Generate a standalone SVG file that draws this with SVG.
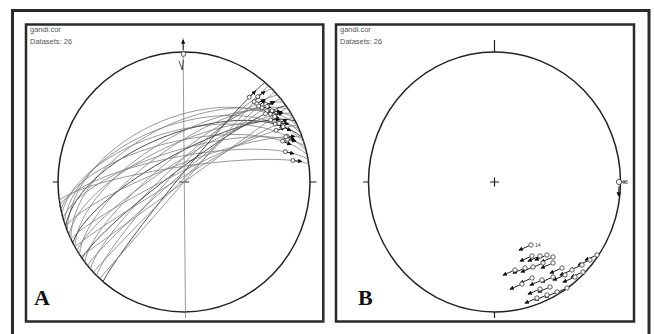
<svg xmlns="http://www.w3.org/2000/svg" width="654" height="334" viewBox="0 0 654 334">
<defs>
<marker id="ah" viewBox="0 0 6 6" refX="5" refY="3" markerWidth="4.5" markerHeight="4.5" orient="auto"><path d="M0,0 L6,3 L0,6 z" fill="#111"/></marker>
</defs>
<style>
.frame{fill:none;stroke:#2a2a2a;stroke-width:3}
.panel{fill:#fff;stroke:#2a2a2a;stroke-width:2.5}
.prim{fill:none;stroke:#222;stroke-width:1.5}
.tick{stroke:#222;stroke-width:1.2;fill:none}
.gc{fill:none;stroke:#808080;stroke-width:0.8;vector-effect:non-scaling-stroke}
.gcd{fill:none;stroke:#3a3a3a;stroke-width:0.9;vector-effect:non-scaling-stroke}
.arr{stroke:#222;stroke-width:1;fill:none;marker-end:url(#ah)}
.pt{fill:#fff;stroke:#333;stroke-width:0.8}
.hdr{font-family:"Liberation Sans",Arial,sans-serif;font-size:7.5px;fill:#555}
.lbl{font-family:"Liberation Serif","Times New Roman",serif;font-size:22px;font-weight:bold;fill:#111}
.num{font-family:"Liberation Sans",Arial,sans-serif;font-size:5px;fill:#333}
</style>
<rect width="654" height="334" fill="#fff"/>
<rect id="outer-frame" class="frame" x="12.5" y="10.5" width="636.5" height="330"/>

<g id="panel-a">
<rect class="panel" x="26" y="24.5" width="297.3" height="297"/>
<text class="hdr" x="30" y="32">gandi.cor</text>
<text class="hdr" x="30" y="44">Datasets: 26</text>
<ellipse class="prim" cx="184" cy="182" rx="126" ry="130"/>
<path class="tick" d="M52.5,182 H58.5 M310,182 H316.5 M179,182 H189"/>
<g id="a-great-circles" transform="translate(184,182) scale(126,-130)">
<path class="gc" transform="rotate(22)" d="M-1,0 C-0.7,0.6667 0.7,0.6667 1,0"/>
<path class="gc" transform="rotate(18)" d="M-1,0 C-0.7,0.6 0.7,0.6 1,0"/>
<path class="gc" transform="rotate(26)" d="M-1,0 C-0.7,0.6 0.7,0.6 1,0"/>
<path class="gc" transform="rotate(14)" d="M-1,0 C-0.7,0.5333 0.7,0.5333 1,0"/>
<path class="gcd" transform="rotate(20)" d="M-1,0 C-0.7,0.5067 0.7,0.5067 1,0"/>
<path class="gc" transform="rotate(30)" d="M-1,0 C-0.7,0.4667 0.7,0.4667 1,0"/>
<path class="gc" transform="rotate(12)" d="M-1,0 C-0.7,0.4267 0.7,0.4267 1,0"/>
<path class="gc" transform="rotate(24)" d="M-1,0 C-0.7,0.4 0.7,0.4 1,0"/>
<path class="gc" transform="rotate(34)" d="M-1,0 C-0.7,0.3733 0.7,0.3733 1,0"/>
<path class="gc" transform="rotate(16)" d="M-1,0 C-0.7,0.3333 0.7,0.3333 1,0"/>
<path class="gcd" transform="rotate(28)" d="M-1,0 C-0.7,0.2933 0.7,0.2933 1,0"/>
<path class="gc" transform="rotate(38)" d="M-1,0 C-0.7,0.2667 0.7,0.2667 1,0"/>
<path class="gc" transform="rotate(10)" d="M-1,0 C-0.7,0.2667 0.7,0.2667 1,0"/>
<path class="gc" transform="rotate(32)" d="M-1,0 C-0.7,0.2133 0.7,0.2133 1,0"/>
<path class="gc" transform="rotate(42)" d="M-1,0 C-0.7,0.1867 0.7,0.1867 1,0"/>
<path class="gc" transform="rotate(20)" d="M-1,0 C-0.7,0.1867 0.7,0.1867 1,0"/>
<path class="gcd" transform="rotate(36)" d="M-1,0 C-0.7,0.1333 0.7,0.1333 1,0"/>
<path class="gc" transform="rotate(46)" d="M-1,0 C-0.7,0.1333 0.7,0.1333 1,0"/>
<path class="gc" transform="rotate(26)" d="M-1,0 C-0.7,0.1067 0.7,0.1067 1,0"/>
<path class="gc" transform="rotate(40)" d="M-1,0 C-0.7,0.08 0.7,0.08 1,0"/>
<path class="gcd" transform="rotate(50)" d="M-1,0 C-0.7,0.0667 0.7,0.0667 1,0"/>
<path class="gc" transform="rotate(30)" d="M-1,0 C-0.7,0.0533 0.7,0.0533 1,0"/>
<path class="gc" transform="rotate(44)" d="M-1,0 C-0.7,0.0267 0.7,0.0267 1,0"/>
<path class="gc" transform="rotate(8)" d="M-1,0 C-0.7,0.16 0.7,0.16 1,0"/>
<path class="gc" transform="rotate(48)" d="M-1,0 L1,0"/>
<path class="gc" transform="rotate(35)" d="M-1,0 L1,0"/>
</g>
<g id="a-striae">
<path class="arr" d="M270.5,114.2 L278.5,118.1"/><path class="arr" d="M283,126.7 L290.9,130.7"/>
<path class="arr" d="M267,110.9 L275.3,113.6"/><path class="arr" d="M287.1,136.2 L295,140.3"/>
<path class="arr" d="M275.1,124 L283.4,127"/><path class="arr" d="M272,110.7 L280.7,111.8"/>
<path class="arr" d="M282.7,141.1 L290.9,144.6"/><path class="arr" d="M279.6,122.7 L288.4,124.1"/>
<path class="arr" d="M262,107.8 L270.8,107.4"/><path class="arr" d="M287.3,139.3 L296,141.2"/>
<path class="arr" d="M270.7,119.9 L279.5,119.5"/><path class="arr" d="M265.7,104.3 L274.2,102"/>
<path class="arr" d="M285.3,151.7 L293.8,153.8"/><path class="arr" d="M274,115 L282.6,113"/>
<path class="arr" d="M256.6,103.5 L264.5,99.6"/><path class="arr" d="M285.9,136.8 L294.7,136.3"/>
<path class="arr" d="M265.5,113.7 L273.5,110.1"/><path class="arr" d="M257.7,96.6 L265,91.5"/>
<path class="arr" d="M276.2,130.4 L284.7,127.8"/><path class="arr" d="M267.1,106.4 L274.4,101.5"/>
<path class="arr" d="M249.2,97.2 L255.6,90.9"/><path class="arr" d="M279,123.3 L287,119.4"/>
<path class="arr" d="M258.6,106 L265.2,100"/><path class="arr" d="M292.9,160.5 L301.7,161.5"/>
<path class="arr" d="M254.1,101.6 L260,94.9"/><path class="arr" d="M274.7,116.5 L282,111.2"/>
<circle class="pt" cx="270.5" cy="114.2" r="2"/><circle class="pt" cx="283" cy="126.7" r="2"/>
<circle class="pt" cx="267" cy="110.9" r="2"/><circle class="pt" cx="287.1" cy="136.2" r="2"/>
<circle class="pt" cx="275.1" cy="124" r="2"/><circle class="pt" cx="272" cy="110.7" r="2"/>
<circle class="pt" cx="282.7" cy="141.1" r="2"/><circle class="pt" cx="279.6" cy="122.7" r="2"/>
<circle class="pt" cx="262" cy="107.8" r="2"/><circle class="pt" cx="287.3" cy="139.3" r="2"/>
<circle class="pt" cx="270.7" cy="119.9" r="2"/><circle class="pt" cx="265.7" cy="104.3" r="2"/>
<circle class="pt" cx="285.3" cy="151.7" r="2"/><circle class="pt" cx="274" cy="115" r="2"/>
<circle class="pt" cx="256.6" cy="103.5" r="2"/><circle class="pt" cx="285.9" cy="136.8" r="2"/>
<circle class="pt" cx="265.5" cy="113.7" r="2"/><circle class="pt" cx="257.7" cy="96.6" r="2"/>
<circle class="pt" cx="276.2" cy="130.4" r="2"/><circle class="pt" cx="267.1" cy="106.4" r="2"/>
<circle class="pt" cx="249.2" cy="97.2" r="2"/><circle class="pt" cx="279" cy="123.3" r="2"/>
<circle class="pt" cx="258.6" cy="106" r="2"/><circle class="pt" cx="292.9" cy="160.5" r="2"/>
<circle class="pt" cx="254.1" cy="101.6" r="2"/><circle class="pt" cx="274.7" cy="116.5" r="2"/>
</g>
<g id="a-vertical-plane">
<path class="gc" d="M183,38 L185.5,318"/>
<path class="arr" d="M183.3,50 L183.1,40"/>
<path class="tick" d="M179,61 L182.3,70 L183.4,60" style="stroke-width:0.8"/>
<circle class="pt" cx="183.5" cy="54" r="2.3"/>
</g>
<text class="lbl" x="34" y="305">A</text>
</g>

<g id="panel-b">
<rect class="panel" x="336" y="24.5" width="298" height="297"/>
<text class="hdr" x="340" y="32">gandi.cor</text>
<text class="hdr" x="340" y="44">Datasets: 26</text>
<ellipse class="prim" cx="494.5" cy="182" rx="126" ry="130"/>
<path class="tick" d="M494.5,40 V52 M494.5,312 V318 M363,182 H368.5 M620.5,182 H626 M490,182 H499 M494.5,177.5 V186.5"/>
<g id="b-striae">
<path class="arr" d="M528.7,246 L519,250.2"/><path class="arr" d="M529.7,257 L520,261.2"/>
<path class="arr" d="M537.7,257 L528,261.2"/><path class="arr" d="M544.7,256 L535,260.2"/>
<path class="arr" d="M550.7,258 L541,262.2"/><path class="arr" d="M512.7,271 L503,275.2"/>
<path class="arr" d="M522.7,269 L513,273.2"/><path class="arr" d="M530.7,268 L521,272.2"/>
<path class="arr" d="M540.7,264 L531,268.2"/><path class="arr" d="M550.7,264 L541,268.2"/>
<path class="arr" d="M559.7,269 L550,273.2"/><path class="arr" d="M569.7,271 L560,275.2"/>
<path class="arr" d="M579.7,266 L570,270.2"/><path class="arr" d="M587.7,261 L578,265.2"/>
<path class="arr" d="M594.7,256 L585,260.2"/><path class="arr" d="M529.7,279 L520,283.2"/>
<path class="arr" d="M539.7,281 L530,285.2"/><path class="arr" d="M550.7,278 L541,282.2"/>
<path class="arr" d="M562.7,276 L553,280.2"/><path class="arr" d="M572.7,278 L563,282.2"/>
<path class="arr" d="M580.7,273 L571,277.2"/><path class="arr" d="M519.7,285 L510,289.2"/>
<path class="arr" d="M534.7,299 L525,303.2"/><path class="arr" d="M544.7,296 L535,300.2"/>
<path class="arr" d="M554.7,293 L545,297.2"/><path class="arr" d="M564.7,289 L555,293.2"/>
<path class="arr" d="M547.7,288 L538,292.2"/><path class="arr" d="M537.7,290 L528,294.2"/>
<circle class="pt" cx="531" cy="245" r="2.2"/><circle class="pt" cx="532" cy="256" r="2.2"/>
<circle class="pt" cx="540" cy="256" r="2.2"/><circle class="pt" cx="547" cy="255" r="2.2"/>
<circle class="pt" cx="553" cy="257" r="2.2"/><circle class="pt" cx="515" cy="270" r="2.2"/>
<circle class="pt" cx="525" cy="268" r="2.2"/><circle class="pt" cx="533" cy="267" r="2.2"/>
<circle class="pt" cx="543" cy="263" r="2.2"/><circle class="pt" cx="553" cy="263" r="2.2"/>
<circle class="pt" cx="562" cy="268" r="2.2"/><circle class="pt" cx="572" cy="270" r="2.2"/>
<circle class="pt" cx="582" cy="265" r="2.2"/><circle class="pt" cx="590" cy="260" r="2.2"/>
<circle class="pt" cx="597" cy="255" r="2.2"/><circle class="pt" cx="532" cy="278" r="2.2"/>
<circle class="pt" cx="542" cy="280" r="2.2"/><circle class="pt" cx="553" cy="277" r="2.2"/>
<circle class="pt" cx="565" cy="275" r="2.2"/><circle class="pt" cx="575" cy="277" r="2.2"/>
<circle class="pt" cx="583" cy="272" r="2.2"/><circle class="pt" cx="522" cy="284" r="2.2"/>
<circle class="pt" cx="537" cy="298" r="2.2"/><circle class="pt" cx="547" cy="295" r="2.2"/>
<circle class="pt" cx="557" cy="292" r="2.2"/><circle class="pt" cx="567" cy="288" r="2.2"/>
<circle class="pt" cx="550" cy="287" r="2.2"/><circle class="pt" cx="540" cy="289" r="2.2"/>
<text class="num" x="535" y="247">14</text>
<path class="arr" d="M619,186 L618.6,196"/>
<circle class="pt" cx="619" cy="182" r="2.6"/>
<text class="num" x="622.5" y="184">95</text>
</g>
<text class="lbl" x="358" y="305">B</text>
</g>
</svg>
